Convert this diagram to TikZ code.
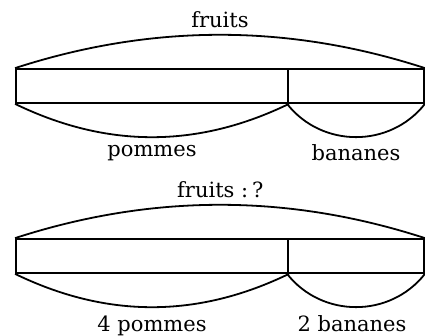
\documentclass[tikz,border=0pt]{standalone}
\usepackage{fontspec}
\setmainfont{DejaVu Serif}
\begin{document}
\begin{tikzpicture}[x=1pt,y=-1pt,
  seg/.style={draw,line width=1.8pt,rectangle,inner sep=0pt,minimum height=34pt},
  arcline/.style={line width=1.8pt},
  lab/.style={anchor=base,inner sep=0pt,font=\fontsize{21}{25}\selectfont}]
\useasboundingbox (0,0) rectangle (425,336);
% first bar
\node[seg,minimum width=272pt] (pa1) at (152,86) {};
\node[seg,minimum width=136pt] (ba1) at (356,86) {};
\draw[arcline] (pa1.north west) .. controls (152,23.7) and (288,23.7) .. (ba1.north east);
\draw[arcline] (pa1.south west) .. controls (106.7,148.3) and (197.3,148.3) .. (pa1.south east);
\draw[arcline] (ba1.south west) .. controls (321.9,148.2) and (390.1,148.2) .. (ba1.south east);
\node[lab] (f1) at (220,28) {fruits};
\node[lab] (p1) at (152,157) {pommes};
\node[lab] (b1) at (356,161) {bananes};
% second bar
\node[seg,minimum width=272pt] (pa2) at (152,256) {};
\node[seg,minimum width=136pt] (ba2) at (356,256) {};
\draw[arcline] (pa2.north west) .. controls (152,193.7) and (288,193.7) .. (ba2.north east);
\draw[arcline] (pa2.south west) .. controls (106.7,318.3) and (197.3,318.3) .. (pa2.south east);
\draw[arcline] (ba2.south west) .. controls (321.9,318.2) and (390.1,318.2) .. (ba2.south east);
\node[lab,anchor=base west] (f2) at (177,198) {fruits :\kern4pt?};
\node[lab] (p2) at (152,331) {4 pommes};
\node[lab] (b2) at (352,331) {2 bananes};
\end{tikzpicture}
\end{document}
